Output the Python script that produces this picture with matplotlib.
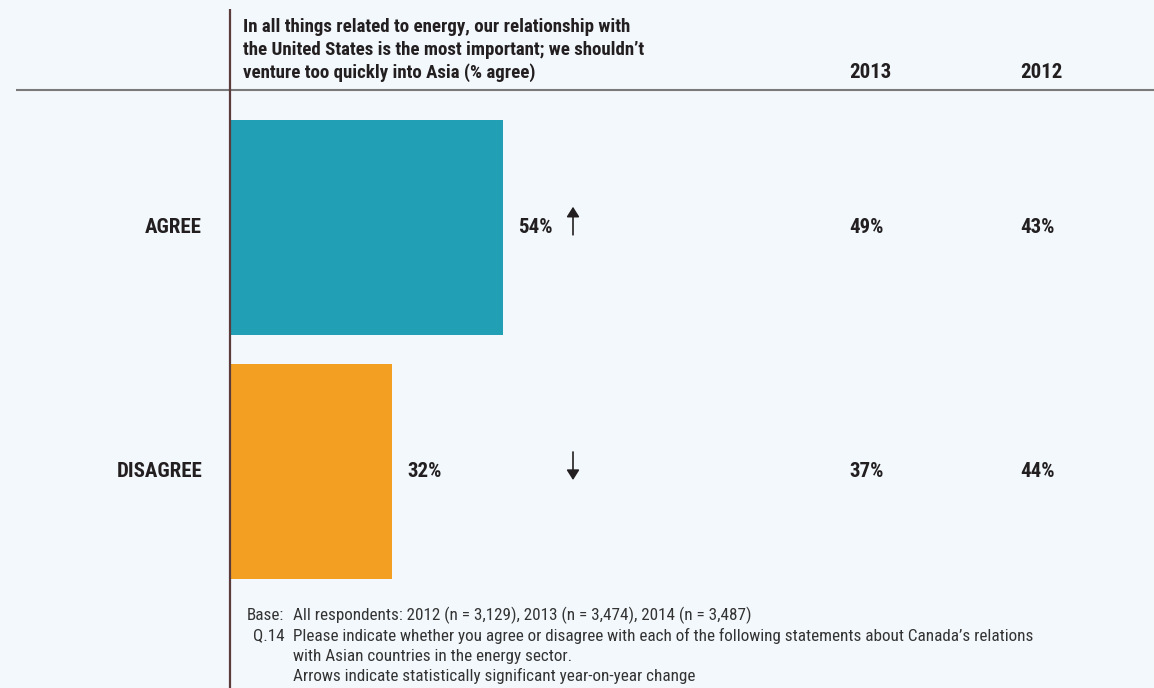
import matplotlib
matplotlib.use('Agg')
import matplotlib.pyplot as plt
from matplotlib import transforms

# 数据
categories = ['AGREE', 'DISAGREE']
values_2014 = [54, 32]
values_2013 = [49, 37]
values_2012 = [43, 44]
changes = ['up', 'down']
bar_colors = ['#21A0B5', '#F39F22']
year_headers = ['2013', '2012']

title_lines = [
    'In all things related to energy, our relationship with',
    'the United States is the most important; we shouldn\u2019t',
    'venture too quickly into Asia (% agree)',
]
notes = [
    ('Base:', 'All respondents: 2012 (n = 3,129), 2013 (n = 3,474), 2014 (n = 3,487)'),
    ('Q.14', 'Please indicate whether you agree or disagree with each of the following statements about Canada\u2019s relations'),
    ('', 'with Asian countries in the energy sector.'),
    ('', 'Arrows indicate statistically significant year-on-year change'),
]

plt.rcParams['font.family'] = ['Roboto Condensed', 'Archivo Narrow', 'DejaVu Sans']
BG = '#F3F8FC'
INK = '#231F20'

W, H = 1154, 688
fig = plt.figure(figsize=(W / 100, H / 100), dpi=100, facecolor=BG)

# 用像素坐标的覆盖层放文字和线
over = fig.add_axes([0, 0, 1, 1], zorder=3)
over.set_xlim(0, W)
over.set_ylim(H, 0)
over.axis('off')
over.patch.set_alpha(0)

# 条形图区域：从竖线右侧开始，每 1% 约 5.04 像素
left_px, top_px = 231, 90
ax = fig.add_axes([left_px / W, 0, (W - left_px) / W, (H - top_px) / H], zorder=2)
ax.patch.set_alpha(0)
ax.set_xlim(0, (W - left_px) / 5.04)
row_px = 244.0
y_top = -(227.5 - top_px) / row_px
ax.set_ylim(y_top + (H - top_px) / row_px, y_top)
ax.axis('off')

ypos = list(range(len(categories)))
ax.barh(ypos, values_2014, height=215 / row_px, color=bar_colors, left=0)

# 数值标签 + 变化箭头
mix = transforms.blended_transform_factory(over.transData, ax.transData)
base = 0.023  # 基线略低于条形中心
for i, (cat, v, v13, v12, ch) in enumerate(zip(categories, values_2014, values_2013,
                                                values_2012, changes)):
    ax.text(v + 3, i + base, f'{v}%', ha='left', va='baseline', fontsize=15,
            fontweight='bold', color=INK)
    over.text(202, i + base, cat, transform=mix, ha='right', va='baseline',
              fontsize=15, fontweight='bold', color=INK)
    for x, val in zip([849, 1020], [v13, v12]):
        over.text(x, i + base, f'{val}%', transform=mix, ha='left', va='baseline',
                  fontsize=15, fontweight='bold', color=INK)
    if ch == 'up':
        a, b = i + 0.03, i - 0.085
    else:
        a, b = i - 0.08, i + 0.035
    over.annotate('', xy=(573, b), xytext=(573, a), xycoords=mix, textcoords=mix,
                  arrowprops=dict(arrowstyle='-|>,head_length=0.6,head_width=0.38',
                                  color=INK, lw=1.2, shrinkA=0, shrinkB=0))

# 标题和年份表头
for k, line in enumerate(title_lines):
    over.text(243, 32 + 23 * k, line, ha='left', va='baseline', fontsize=13.6,
              fontweight='bold', color=INK)
for x, yr in zip([849, 1020], year_headers):
    over.text(x, 78, yr, ha='left', va='baseline', fontsize=15, fontweight='bold',
              color=INK)

# 分隔线
over.plot([16, W], [90, 90], color='#7A7A7A', lw=1.5, solid_capstyle='butt')
over.plot([230, 230], [9, H], color='#5B3B3B', lw=1.6, solid_capstyle='butt')

# 脚注
for k, (lab, txt) in enumerate(notes):
    y = 620 + 20.5 * k
    if lab:
        over.text(247 if lab == 'Base:' else 253, y, lab, ha='left', va='baseline',
                  fontsize=12.3, color='#333333')
    over.text(293, y, txt, ha='left', va='baseline', fontsize=12.3, color='#333333')

fig.savefig('out.png', dpi=100, facecolor=BG)
